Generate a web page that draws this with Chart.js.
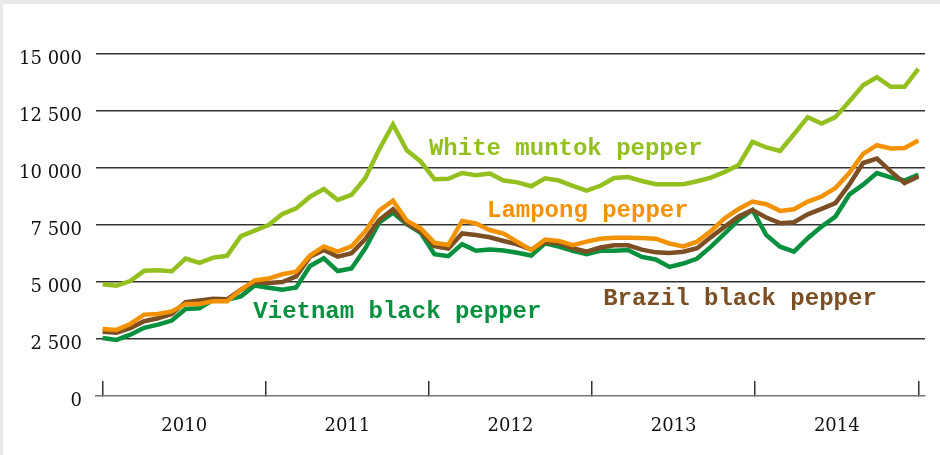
<!DOCTYPE html>
<html lang="en">
<head>
  <meta charset="UTF-8" />
  <title>Pepper prices 2010-2014</title>
  <script src="https://cdn.jsdelivr.net/npm/chart.js"></script>
  <style>
    body {
      margin: 0;
      background: #ebe9e7;
    }

    .panel {
      position: absolute;
      left: 3px;
      top: 4px;
      width: 937px;
      height: 451px;
      background: #fff;
    }
  </style>
</head>
<body>
  <div class="panel">
    <canvas id="pepperChart"></canvas>
  </div>

  <script>
    // monthly prices, Jan 2010 - Dec 2014
    const years = ['2010', '2011', '2012', '2013', '2014'];

    const whiteMuntok = [
      4900, 4840, 5040, 5490, 5510, 5470, 6030, 5840, 6070, 6150,
      7010, 7250, 7500, 7980, 8230, 8740, 9080, 8600, 8820, 9560,
      10810, 11910, 10780, 10290, 9510, 9530, 9780, 9680, 9760, 9450,
      9370, 9200, 9550, 9450, 9220, 9010, 9220, 9560, 9600, 9430,
      9290, 9290, 9290, 9420, 9580, 9830, 10130, 11150, 10900, 10750,
      11480, 12230, 11950, 12230, 12920, 13630, 13980, 13560, 13560, 14350
    ];

    const lampong = [
      2940, 2900, 3160, 3570, 3600, 3710, 4040, 4040, 4160, 4160,
      4660, 5070, 5150, 5340, 5450, 6160, 6560, 6330, 6560, 7230,
      8130, 8570, 7690, 7350, 6720, 6620, 7680, 7570, 7280, 7120,
      6760, 6400, 6860, 6800, 6620, 6770, 6900, 6940, 6940, 6930,
      6900, 6690, 6560, 6770, 7240, 7800, 8200, 8530, 8410, 8120,
      8190, 8530, 8750, 9120, 9780, 10620, 11000, 10860, 10880, 11210
    ];

    const brazilBlack = [
      2820, 2770, 2970, 3280, 3410, 3600, 4120, 4190, 4270, 4240,
      4660, 5000, 4960, 5000, 5250, 6110, 6400, 6110, 6260, 6880,
      7720, 8190, 7570, 7210, 6570, 6470, 7130, 7060, 6960, 6800,
      6650, 6420, 6740, 6700, 6480, 6330, 6510, 6610, 6610, 6420,
      6300, 6270, 6330, 6480, 6970, 7430, 7870, 8160, 7830, 7580,
      7620, 7970, 8210, 8460, 9270, 10220, 10410, 9850, 9340, 9630
    ];

    const vietnamBlack = [
      2540, 2460, 2690, 2990, 3130, 3310, 3820, 3850, 4220, 4220,
      4370, 4850, 4750, 4660, 4760, 5700, 6040, 5480, 5590, 6480,
      7600, 8040, 7540, 7160, 6220, 6130, 6660, 6370, 6430, 6380,
      6280, 6160, 6700, 6550, 6370, 6220, 6370, 6370, 6400, 6100,
      5990, 5660, 5810, 6030, 6550, 7130, 7720, 8160, 7060, 6550,
      6330, 6920, 7430, 7870, 8830, 9270, 9780, 9590, 9450, 9710
    ];

    const colors = {
      white: '#93c01f',
      lampong: '#f39200',
      brazil: '#7c4e24',
      vietnam: '#07913f'
    };

    // series names written on the chart, anchored in data units (month index, price)
    const seriesTags = [
      { text: 'White muntok pepper', month: 23.6, price: 10570, color: colors.white },
      { text: 'Lampong pepper', month: 27.8, price: 7840, color: colors.lampong },
      { text: 'Vietnam black pepper', month: 10.9, price: 3420, color: colors.vietnam },
      { text: 'Brazil black pepper', month: 36.2, price: 3990, color: colors.brazil }
    ];

    const lastMonth = whiteMuntok.length - 1;
    const yearSpan = lastMonth / years.length;

    function toPoints(values) {
      return values.map((v, i) => ({ x: i, y: v }));
    }

    function formatThousands(v) {
      if (v < 1000) return String(v);
      return Math.floor(v / 1000) + ' ' + String(v % 1000).padStart(3, '0');
    }

    const tagPlugin = {
      id: 'seriesTags',
      afterDatasetsDraw(chart) {
        const { ctx, scales } = chart;
        ctx.save();
        ctx.font = 'bold 24px "Liberation Mono", monospace';
        ctx.textBaseline = 'alphabetic';
        ctx.textAlign = 'left';
        seriesTags.forEach(t => {
          ctx.fillStyle = t.color;
          ctx.fillText(t.text, scales.x.getPixelForValue(t.month), scales.y.getPixelForValue(t.price));
        });
        ctx.restore();
      }
    };

    function lineSet(label, values, color) {
      return {
        label: label,
        data: toPoints(values),
        borderColor: color,
        backgroundColor: color,
        borderWidth: 4.5,
        borderJoinStyle: 'miter',
        pointRadius: 0,
        tension: 0,
        fill: false
      };
    }

    const ctx = document.getElementById('pepperChart').getContext('2d');

    new Chart(ctx, {
      type: 'line',
      data: {
        datasets: [
          lineSet('Lampong pepper', lampong, colors.lampong),
          lineSet('Brazil black pepper', brazilBlack, colors.brazil),
          lineSet('Vietnam black pepper', vietnamBlack, colors.vietnam),
          lineSet('White muntok pepper', whiteMuntok, colors.white)
        ]
      },
      options: {
        responsive: true,
        maintainAspectRatio: false,
        animation: false,
        layout: {
          padding: { top: 50, right: 15, bottom: 0, left: 0 }
        },
        plugins: {
          legend: { display: false },
          tooltip: { enabled: false }
        },
        scales: {
          x: {
            type: 'linear',
            min: -0.48,
            max: lastMonth + 0.48,
            afterBuildTicks: axis => {
              const ticks = [];
              for (let k = 0; k <= years.length * 2; k++) {
                ticks.push({ value: k * yearSpan / 2 });
              }
              axis.ticks = ticks;
            },
            afterFit: axis => { axis.height = 59; },
            ticks: {
              autoSkip: false,
              maxRotation: 0,
              padding: 21,
              color: '#111',
              font: { family: '"DejaVu Serif", serif', size: 18, lineHeight: 2.75 },
              callback: (value, index) => (index % 2 ? years[(index - 1) / 2] : '')
            },
            grid: {
              drawOnChartArea: false,
              tickLength: -15,
              lineWidth: 1.5,
              color: c => (c.index % 2 === 0 ? '#333' : 'rgba(0,0,0,0)')
            },
            border: { color: '#777', width: 1.5 }
          },
          y: {
            min: 0,
            max: 15000,
            afterFit: axis => { axis.width = 93; },
            ticks: {
              stepSize: 2500,
              padding: 14,
              labelOffset: 5,
              color: '#111',
              font: { family: '"DejaVu Serif", serif', size: 18 },
              callback: v => formatThousands(v)
            },
            grid: {
              drawTicks: false,
              lineWidth: 1.5,
              color: c => (c.tick && c.tick.value === 0 ? 'rgba(0,0,0,0)' : '#333')
            },
            border: { display: false }
          }
        }
      },
      plugins: [tagPlugin]
    });
  </script>
</body>
</html>
